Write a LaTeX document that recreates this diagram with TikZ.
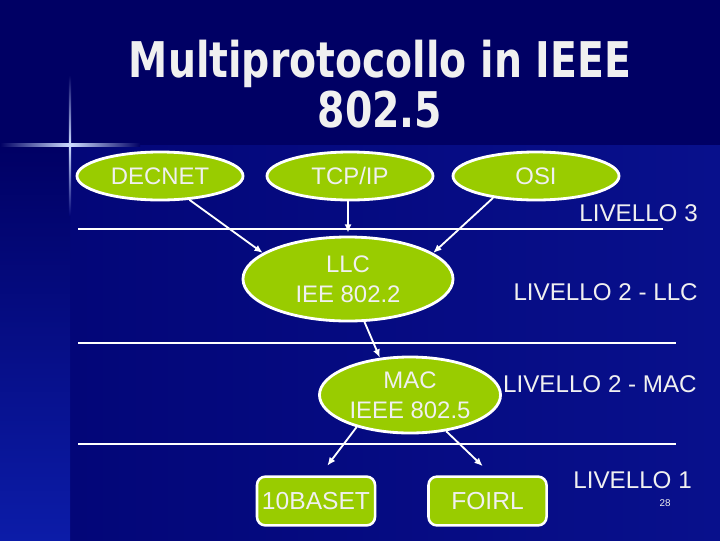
\documentclass[tikz,border=0pt]{standalone}
\usepackage{fontspec}
\setmainfont{Liberation Sans}
\newfontfamily\titlefont{DejaVu Sans}[FakeStretch=0.8]
\usetikzlibrary{shapes.geometric,arrows.meta}

\definecolor{slidebg}{RGB}{0,0,100}
\definecolor{slidelow}{RGB}{3,6,120}
\definecolor{slideright}{RGB}{8,16,140}
\definecolor{stripglow}{RGB}{12,28,168}
\definecolor{glow}{RGB}{205,220,255}
\definecolor{leafgreen}{RGB}{153,204,0}
\definecolor{chalk}{RGB}{240,240,240}

\begin{document}
\begin{tikzpicture}[x=0.025cm,y=-0.025cm,
  proto/.style={ellipse,draw=white,line width=2pt,fill=leafgreen,text=chalk,
    inner sep=0pt,align=center,font=\fontsize{17}{21}\selectfont},
  phys/.style={rectangle,rounded corners=6pt,draw=white,line width=1.8pt,
    fill=leafgreen,text=chalk,inner sep=0pt,minimum width=2.95cm,
    minimum height=1.22cm,font=\fontsize{17.5}{21}\selectfont},
  layertag/.style={anchor=east,inner sep=0pt,text=chalk,font=\fontsize{17.2}{21}\selectfont},
  arrowline/.style={draw=white,line width=1.3pt,-{Latex[length=6pt,width=5pt]}},
  sepline/.style={draw=white,line width=1.5pt}]
  \useasboundingbox (0,0) rectangle (720,540);
  \fill[slidebg] (0,0) rectangle (720,540);
  \shade[left color=slidelow, right color=slideright] (70,145) rectangle (720,540);
  \shade[top color=slidebg, bottom color=stripglow] (0,145) rectangle (70,540);
  \shade[left color=slidebg, right color=slidebg, middle color=glow] (0,143.8) rectangle (140,146.2);
  \shade[top color=slidebg, bottom color=slidelow, middle color=glow] (68.8,75) rectangle (71.2,215);

  \node[text=chalk,align=center,font=\titlefont\bfseries\fontsize{35}{36}\selectfont] (title)
    at (380,84) {Multiprotocollo in IEEE\\802.5};

  \node[proto,minimum width=4.15cm,minimum height=1.2cm] (decnet) at (160,176) {DECNET};
  \node[proto,minimum width=4.15cm,minimum height=1.2cm] (tcpip) at (350,176) {TCP/IP};
  \node[proto,minimum width=4.15cm,minimum height=1.2cm] (osi) at (536,176) {OSI};
  \node[proto,minimum width=5.25cm,minimum height=2.1cm] (llc) at (348,279) {LLC\\IEE 802.2};
  \node[proto,minimum width=4.525cm,minimum height=1.9cm] (mac) at (410,395) {MAC\\IEEE 802.5};
  \node[phys] (tenbase) at (316,501) {10BASET};
  \node[phys] (foirl) at (487.5,501) {FOIRL};

  \foreach \ly/\lx in {229/663,343/676,444/676}
    \draw[sepline] (78,\ly) -- (\lx,\ly);

  \draw[arrowline] (decnet.-39) -- (llc.163);
  \draw[arrowline,shorten >=2pt] (tcpip.south -| llc.north) -- (llc.north);
  \draw[arrowline] (osi.-153) -- (llc.17);
  \draw[arrowline] (llc.-69) -- (mac.129);
  \draw[arrowline,shorten >=0.3cm] (mac.-149) -- ([xshift=0.1cm]tenbase.north);
  \draw[arrowline,shorten >=0.33cm] (mac.-45) -- ([xshift=0.12cm]foirl.north);

  \node[layertag] (lv3) at (698,213) {LIVELLO 3};
  \node[layertag] (lv2llc) at (698,292) {LIVELLO 2 - LLC};
  \node[layertag] (lv2mac) at (697,384) {LIVELLO 2 - MAC};
  \node[layertag] (lv1) at (692,480) {LIVELLO 1};
  \node[text=chalk,inner sep=0pt,font=\fontsize{7}{8}\selectfont] (pagenum) at (665,503) {28};
\end{tikzpicture}
\end{document}
